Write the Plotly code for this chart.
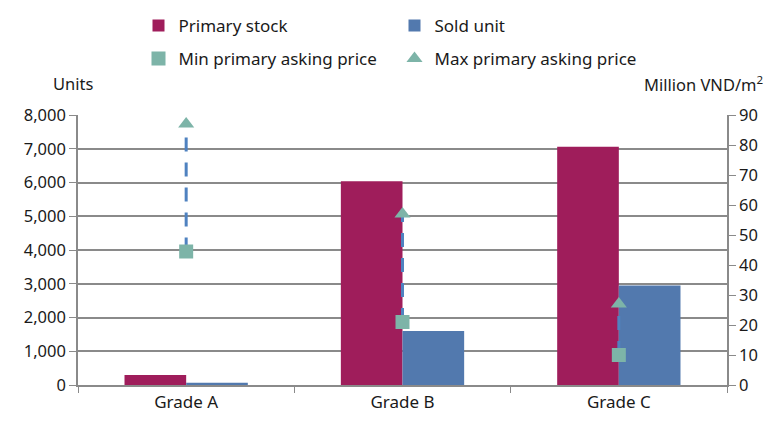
import plotly.graph_objects as go

grades = ["Grade A", "Grade B", "Grade C"]
primary_stock = [300, 6040, 7060]
sold_unit = [70, 1600, 2950]
min_price = [44.5, 21, 10]
max_price = [87, 57, 27]

FONT = "Noto Sans"
GRID = "#8a8a8a"
W, H = 761, 406  # page body has an 8px margin, keep the figure inside the window

fig = go.Figure()
fig.add_trace(go.Bar(x=grades, y=primary_stock, name="Primary stock",
                     marker=dict(color="#9f1d5b", line=dict(width=0))))
fig.add_trace(go.Bar(x=grades, y=sold_unit, name="Sold unit",
                     marker=dict(color="#5279ae", line=dict(width=0))))

# dashed range line from min to max price for each grade
line_x, line_y = [], []
for g, lo, hi in zip(grades, min_price, max_price):
    line_x += [g, g, None]
    line_y += [lo, hi, None]
fig.add_trace(go.Scatter(x=line_x, y=line_y, yaxis="y2", mode="lines",
                         line=dict(color="#4f82c0", width=3, dash="14px,11px"),
                         showlegend=False, hoverinfo="skip"))

fig.add_trace(go.Scatter(x=grades, y=min_price, yaxis="y2", mode="markers",
                         name="Min primary asking price", legend="legend2",
                         marker=dict(symbol="square", size=14, color="#7db4a8")))
fig.add_trace(go.Scatter(x=grades, y=max_price, yaxis="y2", mode="markers",
                         name="Max primary asking price", legend="legend2",
                         marker=dict(symbol="triangle-up", size=14, color="#7db4a8")))

legend_style = dict(orientation="h", xref="container", yref="container",
                    xanchor="left", yanchor="top", entrywidth=211,
                    entrywidthmode="pixels", font=dict(size=17), itemwidth=30,
                    bgcolor="rgba(0,0,0,0)")

# plot area in figure pixels
L, R, T, B = 70, 42, 107, 29
pw, ph = W - L - R, H - T - B

fig.update_layout(
    width=W, height=H,
    margin=dict(l=L, r=R, t=T, b=B, autoexpand=False),
    paper_bgcolor="white", plot_bgcolor="white",
    font=dict(family=FONT, size=16, color="#1a1a1a"),
    barmode="group", bargap=0.43, bargroupgap=0,
    legend=dict(x=130.5 / W, y=1.0, **legend_style),
    legend2=dict(x=130.5 / W, y=1 - 33 / H, **legend_style),
    xaxis=dict(showline=True, linecolor=GRID, linewidth=1.5, ticks="outside",
               tickson="boundaries", ticklen=6, tickcolor=GRID,
               showgrid=False, tickfont=dict(size=17), ticklabelstandoff=1),
    yaxis=dict(range=[0, 8000], dtick=1000, tickformat=",", showgrid=True,
               gridcolor=GRID, gridwidth=1.6, showline=True, linecolor=GRID,
               linewidth=1.5, ticks="outside", ticklen=7, tickcolor=GRID,
               zeroline=False, tickfont=dict(size=16.5)),
    yaxis2=dict(range=[0, 90], dtick=10, overlaying="y", side="right",
                showgrid=False, showline=True, linecolor=GRID, linewidth=1.5,
                ticks="outside", ticklen=7, tickcolor=GRID, zeroline=False,
                tickfont=dict(size=16.5)),
    annotations=[
        dict(text="Units", xref="paper", yref="paper", x=(87 - L) / pw,
             y=(H - B - 76) / ph, xanchor="right", yanchor="middle",
             showarrow=False, font=dict(size=16.5)),
        dict(text="Million VND/m<sup>2</sup>", xref="paper", yref="paper",
             x=(757 - L) / pw, y=(H - B - 76) / ph, xanchor="right",
             yanchor="middle", showarrow=False, font=dict(size=16.5)),
    ],
)

fig.write_html("out.html")
